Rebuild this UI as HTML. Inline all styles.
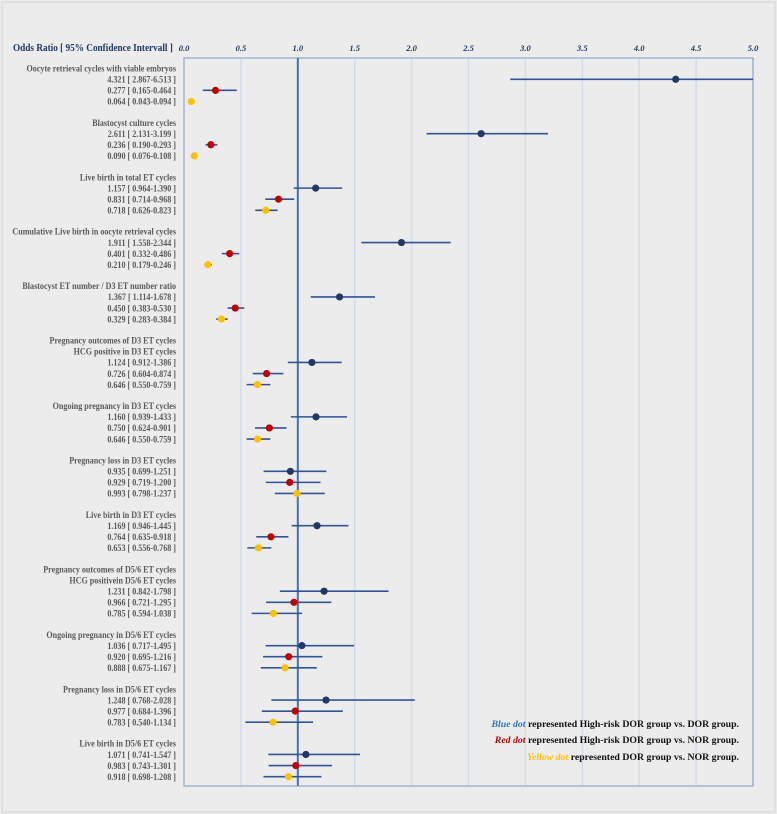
<!DOCTYPE html>
<html><head><meta charset="utf-8">
<style>
html,body{margin:0;padding:0;background:#ececec;}
#wrap{position:relative;width:777px;height:814px;background:#ececec;font-family:"Liberation Serif",serif;overflow:hidden;}
svg{position:absolute;left:0;top:0;}
</style></head>
<body>
<div id="wrap">
<svg id="chart" width="777" height="814"></svg>
</div>
<script>
// ---- data ----
const groupTitles = [
 ["Oocyte retrieval cycles with viable embryos"],
 ["Blastocyst culture cycles"],
 ["Live birth in  total ET cycles"],
 ["Cumulative Live birth in oocyte retrieval cycles"],
 ["Blastocyst ET number / D3 ET number ratio"],
 ["Pregnancy outcomes of D3 ET cycles","HCG positive in D3 ET cycles"],
 ["Ongoing pregnancy in D3 ET cycles"],
 ["Pregnancy loss in D3 ET cycles"],
 ["Live birth in D3 ET cycles"],
 ["Pregnancy outcomes of D5/6 ET cycles","HCG positivein D5/6 ET cycles"],
 ["Ongoing pregnancy in D5/6 ET cycles"],
 ["Pregnancy loss in D5/6 ET cycles"],
 ["Live birth in D5/6 ET cycles"]
];
const blueOR  = [4.321,2.611,1.157,1.911,1.367,1.124,1.160,0.935,1.169,1.231,1.036,1.248,1.071];
const blueLo  = [2.867,2.131,0.964,1.558,1.114,0.912,0.939,0.699,0.946,0.842,0.717,0.768,0.741];
const blueHi  = [6.513,3.199,1.390,2.344,1.678,1.386,1.433,1.251,1.445,1.798,1.495,2.028,1.547];
const redOR   = [0.277,0.236,0.831,0.401,0.450,0.726,0.750,0.929,0.764,0.966,0.920,0.977,0.983];
const redLo   = [0.165,0.190,0.714,0.332,0.383,0.604,0.624,0.719,0.635,0.721,0.695,0.684,0.743];
const redHi   = [0.464,0.293,0.968,0.486,0.530,0.874,0.901,1.200,0.918,1.295,1.216,1.396,1.301];
const yelOR   = [0.064,0.090,0.718,0.210,0.329,0.646,0.646,0.993,0.653,0.785,0.888,0.783,0.918];
const yelLo   = [0.043,0.076,0.626,0.179,0.283,0.550,0.550,0.798,0.556,0.594,0.675,0.540,0.698];
const yelHi   = [0.094,0.108,0.823,0.246,0.384,0.759,0.759,1.237,0.768,1.038,1.167,1.134,1.208];
const tickLabels = ["0.0","0.5","1.0","1.5","2.0","2.5","3.0","3.5","4.0","4.5","5.0"];
const tickValues = [0,0.5,1,1.5,2,2.5,3,3.5,4,4.5,5];

// ---- layout ----
const NS="http://www.w3.org/2000/svg";
const svg=document.getElementById('chart');
const X0=184, X1=753, TOP=58, BOT=786, XMAX=5;
const x=v=>X0+(Math.min(v,XMAX))*(X1-X0)/XMAX;
function el(t,a){const e=document.createElementNS(NS,t);for(const k in a)e.setAttribute(k,a[k]);svg.appendChild(e);return e;}

let e=el('rect',{x:2,y:2,width:773,height:810,fill:'none',stroke:'#d6d6d6','stroke-width':1});



tickValues.forEach((v,i)=>{
  if(v===0||v===1) return;
  const g=el('line',{x1:x(v),x2:x(v),y1:TOP,y2:BOT,stroke:'#d3dde9','stroke-width':1.5});
  
  
});
e=el('rect',{x:X0,y:TOP,width:X1-X0,height:BOT-TOP,fill:'none',stroke:'#8fa6cf','stroke-width':1.2});


e=el('line',{x1:x(1),x2:x(1),y1:TOP,y2:BOT,stroke:'#4a6fb5','stroke-width':2});



tickValues.forEach((v,i)=>{
  const t=el('text',{x:x(v),y:51,'text-anchor':'middle','font-size':'8.5','font-weight':'bold','font-style':'italic',fill:'#1f3864'});
  t.textContent=tickLabels[i];
  
  
});
e=el('text',{x:13,y:51,'font-size':'11','font-weight':'bold',fill:'#1f3864',transform:'translate(13,0) scale(0.84,1) translate(-13,0)'});
e.textContent="Odds Ratio [ 95% Confidence Intervall ]";



const LX=176;
let y=71.5;
function label(txt,yy,name){
  const t=el('text',{x:LX,y:yy,'text-anchor':'end','font-size':'9.3','font-weight':'bold',fill:'#595959',transform:'translate('+LX+',0) scale(0.87,1) translate(-'+LX+',0)'});
  t.textContent=txt;
  
  
}
const f=v=>v.toFixed(3);
function series(or,lo,hi,yy,color,name){
  const l=el('line',{x1:x(lo),x2:x(hi),y1:yy,y2:yy,stroke:'#2f5597','stroke-width':1.6});
  
  
  const c=el('circle',{cx:x(or),cy:yy,r:3.6,fill:color});
  
  
}
groupTitles.forEach((titles,g)=>{
  titles.forEach(tt=>{label(tt,y,'group-title');y+=11.08;});
  const rows=[[blueOR,blueLo,blueHi,'#1f3864','blue'],[redOR,redLo,redHi,'#c00000','red'],[yelOR,yelLo,yelHi,'#ffc000','yellow']];
  rows.forEach(r=>{
    label(f(r[0][g])+' [ '+f(r[1][g])+'-'+f(r[2][g])+' ]',y,'row-label');
    series(r[0][g],r[1][g],r[2][g],y-3.3,r[3],r[4]+'-g'+g);
    y+=11.08;
  });
  y+=10.1;
});

const leg=[["Blue dot","#2e75b6"," represented High-risk DOR group vs. DOR group.",727],
           ["Red dot","#c00000"," represented High-risk DOR group vs. NOR group.",743],
           ["Yellow dot","#ffc000"," represented DOR group vs. NOR group.",760]];
leg.forEach(l=>{
  const t=el('text',{x:739,y:l[3],'text-anchor':'end','font-size':'9.8','font-weight':'bold',fill:'#111'});
  const s1=document.createElementNS(NS,'tspan');s1.setAttribute('fill',l[1]);s1.setAttribute('font-style','italic');s1.textContent=l[0];
  const s2=document.createElementNS(NS,'tspan');s2.textContent=l[2];
  t.appendChild(s1);t.appendChild(s2);
  
  
});
</script>
</body></html>
